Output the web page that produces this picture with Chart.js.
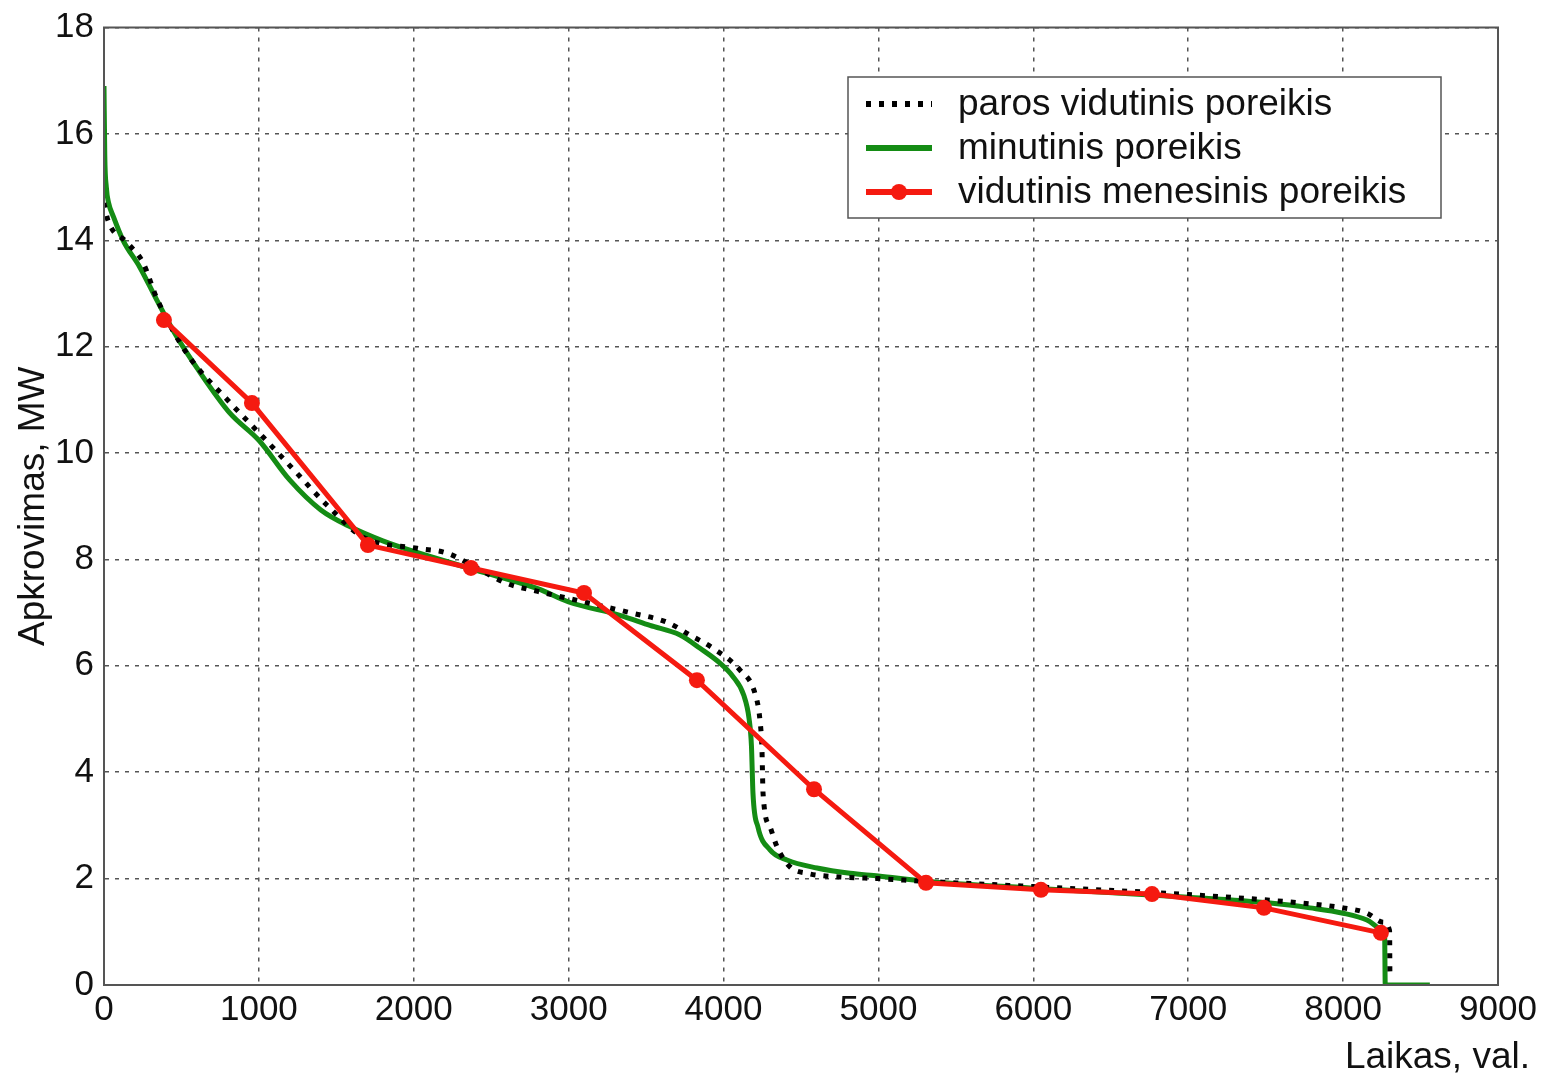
<!DOCTYPE html>
<html>
<head>
<meta charset="utf-8">
<style>
  body { margin: 0; background: #fff; }
  #wrap { width: 1546px; height: 1078px; }
</style>
<script src="https://cdn.jsdelivr.net/npm/chart.js"></script>
</head>
<body>
<div id="wrap"><canvas id="chart" width="1546" height="1078"></canvas></div>
<script>
// paros vidutinis poreikis (daily average, dotted black)
const dailyX = [0, 26, 148, 252, 342, 536, 813, 1027, 1246, 1440, 1672, 2021, 2214, 2400, 2600, 2800, 3100, 3396, 3634, 3783, 3932, 4106, 4203, 4235, 4248, 4255, 4300, 4345, 4429, 4538, 4751, 5000, 5300, 6000, 7000, 7657, 8000, 8154, 8257, 8300, 8302];
const dailyY = [14.7, 14.37, 13.96, 13.58, 12.9, 11.87, 10.95, 10.3, 9.62, 9.02, 8.42, 8.21, 8.12, 7.85, 7.55, 7.4, 7.2, 7.0, 6.82, 6.58, 6.33, 5.92, 5.48, 4.98, 4.42, 3.6, 2.97, 2.6, 2.22, 2.1, 2.03, 2.0, 1.95, 1.85, 1.7, 1.56, 1.45, 1.35, 1.18, 1.02, 0.2];

// minutinis poreikis (minute demand, green)
const minuteX = [0, 5, 15, 30, 60, 123, 232, 342, 471, 600, 813, 1000, 1200, 1400, 1600, 1800, 2000, 2400, 2800, 3000, 3331, 3525, 3719, 3848, 3977, 4060, 4130, 4165, 4180, 4190, 4222, 4300, 4409, 4603, 4816, 5000, 5300, 6000, 7000, 7528, 7786, 8000, 8154, 8257, 8268, 8272, 8560];
const minuteY = [16.9, 15.6, 15.0, 14.7, 14.45, 14.0, 13.49, 12.87, 12.18, 11.6, 10.75, 10.24, 9.49, 8.93, 8.6, 8.35, 8.15, 7.8, 7.45, 7.2, 6.95, 6.76, 6.58, 6.33, 6.05, 5.8, 5.45, 5.0, 4.5, 3.6, 2.97, 2.54, 2.35, 2.2, 2.1, 2.05, 1.95, 1.82, 1.65, 1.54, 1.45, 1.35, 1.22, 1.03, 0.95, 0, 0];

// vidutinis menesinis poreikis (monthly average, red with markers)
const monthX = [387, 955, 1704, 2369, 3099, 3828, 4584, 5307, 6049, 6766, 7489, 8244];
const monthY = [12.5, 10.94, 8.27, 7.84, 7.37, 5.73, 3.68, 1.92, 1.79, 1.71, 1.45, 0.98];

const xTicks = [0, 1000, 2000, 3000, 4000, 5000, 6000, 7000, 8000, 9000];
const yTicks = [0, 2, 4, 6, 8, 10, 12, 14, 16, 18];

const labels = ['paros vidutinis poreikis', 'minutinis poreikis', 'vidutinis menesinis poreikis'];
const xTitle = 'Laikas, val.';
const yTitle = 'Apkrovimas, MW';

const FONT = '"Liberation Sans", Arial, sans-serif';

function toPoints(xs, ys) {
  return xs.map((x, i) => ({ x: x, y: ys[i] }));
}

const framePlugin = {
  id: 'frame',
  afterDraw(chart) {
    const ctx = chart.ctx;
    const a = chart.chartArea;
    ctx.save();
    // axes box
    ctx.strokeStyle = '#555';
    ctx.lineWidth = 2;
    ctx.strokeRect(a.left, a.top, a.right - a.left, a.bottom - a.top);

    // legend box
    const bx = 848, by = 77, bw = 593, bh = 141;
    ctx.fillStyle = '#fff';
    ctx.fillRect(bx, by, bw, bh);
    ctx.strokeStyle = '#555';
    ctx.lineWidth = 1.5;
    ctx.strokeRect(bx, by, bw, bh);
    ctx.font = '37px ' + FONT;
    ctx.textBaseline = 'middle';
    ctx.textAlign = 'left';
    const rows = [104, 148, 192];
    chart.data.datasets.forEach((ds, i) => {
      const y = rows[i];
      ctx.save();
      ctx.strokeStyle = ds.borderColor;
      ctx.lineWidth = ds.borderWidth + 1;
      ctx.setLineDash(ds.borderDash || []);
      ctx.beginPath();
      ctx.moveTo(866, y);
      ctx.lineTo(932, y);
      ctx.stroke();
      ctx.restore();
      if (ds.pointRadius > 0) {
        ctx.fillStyle = ds.pointBackgroundColor;
        ctx.beginPath();
        ctx.arc(899, y, ds.pointRadius, 0, Math.PI * 2);
        ctx.fill();
      }
      ctx.fillStyle = '#111';
      ctx.fillText(ds.label, 958, y + 1);
    });

    // x axis title, right aligned under the last ticks
    ctx.font = '37px ' + FONT;
    ctx.textAlign = 'right';
    ctx.textBaseline = 'alphabetic';
    ctx.fillStyle = '#111';
    ctx.fillText(xTitle, 1530, 1068);
    ctx.restore();
  }
};

const chart = new Chart(document.getElementById('chart').getContext('2d'), {
  type: 'line',
  data: {
    datasets: [{
      label: labels[0],
      data: toPoints(dailyX, dailyY),
      borderColor: '#000000',
      borderWidth: 5,
      borderDash: [5, 8],
      pointRadius: 0,
      cubicInterpolationMode: 'monotone',
      order: 1
    }, {
      label: labels[1],
      data: toPoints(minuteX, minuteY),
      borderColor: '#148c14',
      borderWidth: 5,
      pointRadius: 0,
      cubicInterpolationMode: 'monotone',
      order: 2
    }, {
      label: labels[2],
      data: toPoints(monthX, monthY),
      borderColor: '#f51a10',
      borderWidth: 5,
      pointRadius: 8,
      pointBackgroundColor: '#f51a10',
      pointBorderWidth: 0,
      tension: 0,
      order: 0
    }]
  },
  options: {
    responsive: false,
    animation: false,
    layout: { padding: { left: 0, top: 27, right: 48, bottom: 0 } },
    plugins: {
      legend: { display: false },
      tooltip: { enabled: false }
    },
    scales: {
      x: {
        type: 'linear',
        min: 0,
        max: 9000,
        afterFit(scale) { scale.height = 93; },
        afterBuildTicks(scale) { scale.ticks = xTicks.map(v => ({ value: v })); },
        ticks: {
          color: '#111',
          font: { family: FONT, size: 35 },
          padding: 4,
          maxRotation: 0,
          autoSkip: false,
          callback: v => String(v)
        },
        grid: { color: '#555', lineWidth: 1.5, drawTicks: false },
        border: { display: true, color: '#555', width: 2, dash: [4, 6] }
      },
      y: {
        type: 'linear',
        min: 0,
        max: 18,
        afterFit(scale) { scale.width = 104; },
        afterBuildTicks(scale) { scale.ticks = yTicks.map(v => ({ value: v })); },
        ticks: {
          color: '#111',
          font: { family: FONT, size: 35, lineHeight: 1 },
          padding: 10,
          autoSkip: false,
          callback: v => String(v)
        },
        grid: { color: '#555', lineWidth: 1.5, drawTicks: false },
        border: { display: true, color: '#555', width: 2, dash: [4, 6] },
        title: {
          display: true,
          text: yTitle,
          color: '#111',
          font: { family: FONT, size: 37 },
          padding: { top: 12, bottom: 0 }
        }
      }
    }
  },
  plugins: [framePlugin]
});
</script>
</body>
</html>
